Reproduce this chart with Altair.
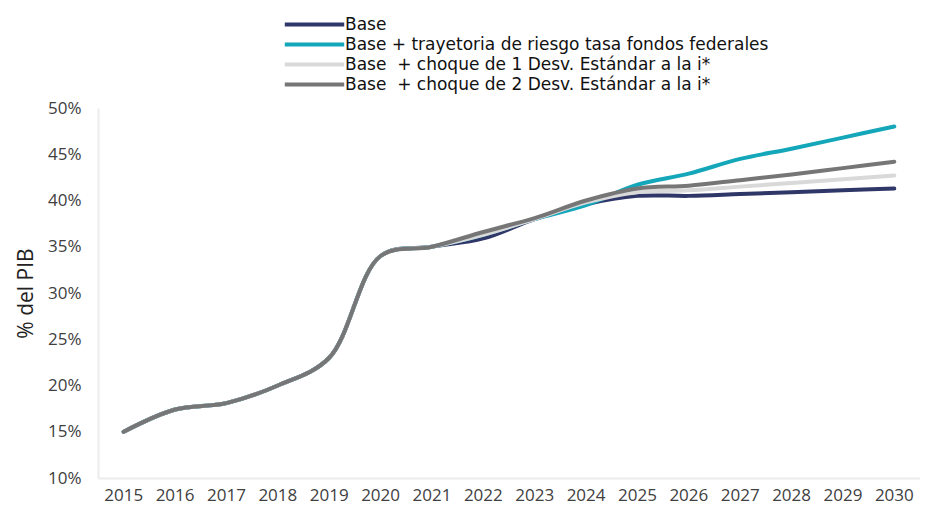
import altair as alt
import pandas as pd

years = [str(y) for y in range(2015, 2031)]
common = [15.0, 17.4, 18.1, 20.0, 23.0, 34.0, 35.0]
base = common + [35.9, 38.0, 39.6, 40.5, 40.5, 40.7, 40.9, 41.1, 41.3]
fed = common + [36.3, 38.0, 39.5, 41.7, 42.9, 44.5, 45.6, 46.8, 48.0]
sd1 = common + [36.3, 38.0, 39.8, 40.9, 41.1, 41.5, 41.9, 42.3, 42.7]
sd2 = common + [36.6, 38.1, 40.0, 41.3, 41.6, 42.2, 42.8, 43.5, 44.2]

names = [
    "Base",
    "Base + trayetoria de riesgo tasa fondos federales",
    "Base \u00a0+ choque de 1 Desv. Estándar a la i*",
    "Base \u00a0+ choque de 2 Desv. Estándar a la i*",
]
colors = ["#2f3668", "#14a6b9", "#d9d9d9", "#767676"]
series = [base, fed, sd1, sd2]

rows = []
for k, (n, vals) in enumerate(zip(names, series)):
    for y, v in zip(years, vals):
        rows.append({"year": y, "value": v / 100.0, "serie": n, "k": k})
df = pd.DataFrame(rows)

chart = (
    alt.Chart(df)
    .mark_line(interpolate="catmull-rom", strokeWidth=4, strokeCap="round")
    .encode(
        x=alt.X(
            "year:O",
            title=None,
            sort=years,
            scale=alt.Scale(type="band", paddingInner=0, paddingOuter=0),
            axis=alt.Axis(
                labelAngle=0,
                labelFont="Open Sans",
                labelFontSize=17,
                labelColor="#404040",
                labelPadding=9,
                ticks=False,
                domainColor="#ececec",
                domainWidth=2,
            ),
        ),
        y=alt.Y(
            "value:Q",
            title="% del PIB",
            scale=alt.Scale(domain=[0.10, 0.50], nice=False),
            axis=alt.Axis(
                format=".0%",
                values=[0.10, 0.15, 0.20, 0.25, 0.30, 0.35, 0.40, 0.45, 0.50],
                grid=False,
                ticks=False,
                labelFont="Open Sans",
                labelFontSize=17,
                labelColor="#404040",
                labelPadding=17,
                domainColor="#ececec",
                domainWidth=2,
                titleFont="Open Sans",
                titleFontSize=21,
                titleFontWeight="normal",
                titleColor="#222222",
                titlePadding=11,
            ),
        ),
        color=alt.Color(
            "serie:N",
            sort=names,
            scale=alt.Scale(domain=names, range=colors),
            legend=alt.Legend(
                title=None,
                orient="none",
                legendX=208,
                legendY=-92,
                direction="vertical",
                symbolType="M-5.4,0H5.4",
                symbolSize=121,
                symbolStrokeWidth=4,
                labelFont="DejaVu Sans",
                labelFontSize=17,
                labelColor="#111111",
                labelLimit=700,
                labelOffset=22,
                rowPadding=2,
                padding=0,
            ),
        ),
        detail="k:N",
    )
    .properties(
        width=822,
        height=370,
        padding={"left": 90, "top": 100, "right": 0, "bottom": 30},
        autosize="none",
    )
    .configure_view(stroke=None)
)

chart.save("out.html", embed_options={"renderer": "svg", "actions": False})
